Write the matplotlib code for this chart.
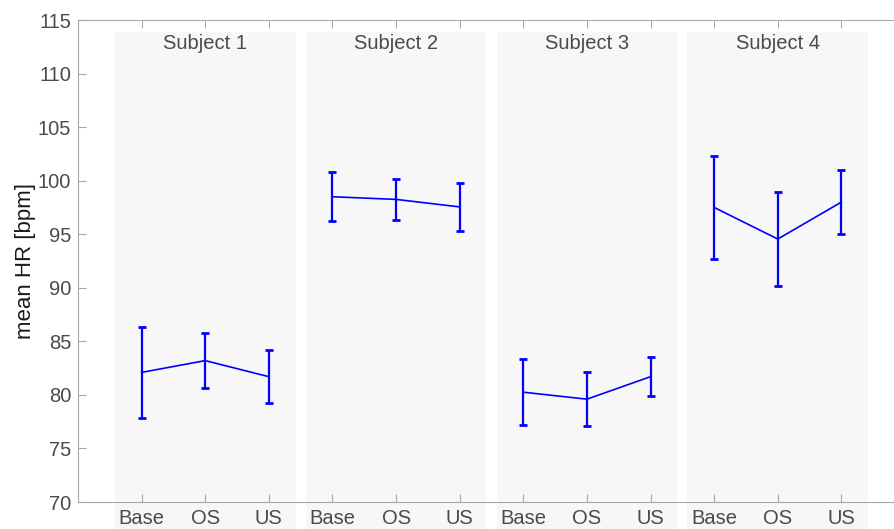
import matplotlib.pyplot as plt
from matplotlib.patches import Rectangle

# values
subjects = ['Subject 1', 'Subject 2', 'Subject 3', 'Subject 4']
conditions = ['Base', 'OS', 'US']
hr_mean = [
    [82.1, 83.2, 81.7],
    [98.5, 98.25, 97.55],
    [80.25, 79.6, 81.7],
    [97.5, 94.55, 98.0],
]
hr_err = [
    [4.25, 2.55, 2.45],
    [2.3, 1.9, 2.25],
    [3.1, 2.5, 1.8],
    [4.8, 4.4, 3.0],
]

plt.rcParams['font.family'] = ['Liberation Sans', 'DejaVu Sans']
grey_text = '#4a4a4a'
spine_col = '#a8a8a8'

fig = plt.figure(figsize=(8.95, 5.29), dpi=100)
ax = fig.add_axes([78 / 895, 27 / 529, 827 / 895, 482 / 529])

ticks = []
labels = []
for i, name in enumerate(subjects):
    x = [3 * i + 1, 3 * i + 2, 3 * i + 3]
    ax.add_patch(Rectangle((3 * i + 0.58, 60), 2.84, 113.9 - 60,
                           facecolor='#f7f7f7', edgecolor='none',
                           zorder=0.5, clip_on=False))
    ax.errorbar(x, hr_mean[i], yerr=hr_err[i], color='#0000ff', lw=1.2,
                capsize=3, capthick=2, elinewidth=1.6, zorder=3)
    ax.text(3 * i + 2, 112.85, name, ha='center', va='center',
            fontsize=14.5, color=grey_text)
    ticks += x
    labels += conditions

ax.set_xlim(0, 13)
ax.set_ylim(70, 115)
ax.set_xticks(ticks)
ax.set_xticklabels(labels)
ax.set_yticks(range(70, 116, 5))
ax.tick_params(direction='in', length=6, width=0.8, color=spine_col,
               labelsize=14.5, labelcolor=grey_text, top=True, pad=5)
for s in ax.spines.values():
    s.set_color(spine_col)
    s.set_linewidth(0.8)
ax.set_ylabel('mean HR [bpm]', fontsize=16, color='#1a1a1a', labelpad=1)

fig.savefig('out.png', dpi=100)
